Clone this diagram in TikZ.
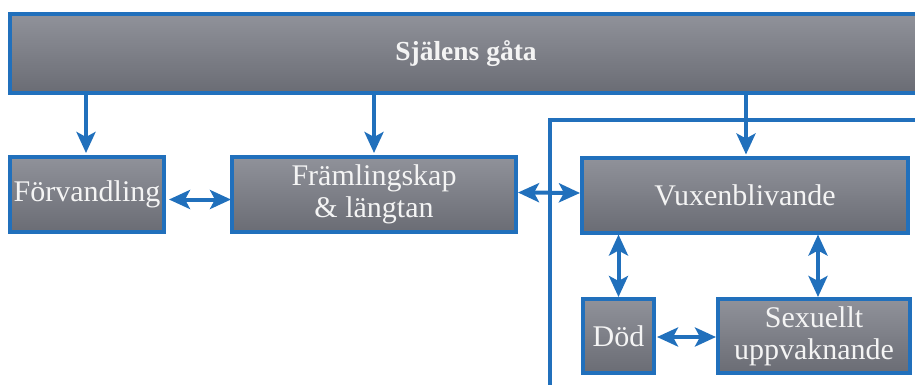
\documentclass[tikz,border=0pt]{standalone}
\usepackage{fontspec}
\setmainfont{Liberation Serif}
\usetikzlibrary{arrows.meta}
\definecolor{bblue}{HTML}{2170BC}
\definecolor{gtop}{HTML}{90929A}
\definecolor{gbot}{HTML}{6A6C74}
\definecolor{txt}{HTML}{F4F4F4}
\tikzset{
  box/.style={draw=bblue, line width=4pt, top color=gtop, bottom color=gbot,
    inner sep=0pt, text=txt, align=center, font=\fontsize{30}{32}\selectfont},
  arr/.style={draw=bblue, line width=4pt, -{Stealth[length=21pt,width=19pt,inset=5pt]}},
  darr/.style={draw=bblue, line width=4pt, {Stealth[length=21pt,width=19pt,inset=5pt]}-{Stealth[length=21pt,width=19pt,inset=5pt]}},
  plain/.style={draw=bblue, line width=4pt}
}
\begin{document}
\begin{tikzpicture}[x=1pt,y=-1pt]
\useasboundingbox (0,0) rectangle (915,384);
\clip (0,0) rectangle (915,384);
\node[box, minimum width=912pt, minimum height=79pt, font=\fontsize{27.5}{30}\selectfont\bfseries] (top) at (466,53.5) {Själens gåta};
\node[box, minimum width=154pt, minimum height=75pt] (forv) at (87,194.5) {Förvandling};
\node[box, minimum width=284pt, minimum height=75pt] (fram) at (374,194.5) {Främlingskap\\\& längtan};
\node[box, minimum width=326pt, minimum height=75pt] (vux) at (745,195) {Vuxenblivande};
\node[box, minimum width=71pt, minimum height=74pt] (dod) at (618.5,336) {Död};
\node[box, minimum width=192pt, minimum height=74pt] (sex) at (814,336) {Sexuellt\\uppvaknande};
\coordinate (lb) at (550,400);
\coordinate (lc) at (550,120);
\coordinate (lr) at (930,120);
\draw[plain] (lb) -- (lc) -- (lr);
\draw[arr] ([xshift=-1pt]forv.north |- top.south) -- ([xshift=-1pt,yshift=2pt]forv.north);
\draw[arr] (fram.north |- top.south) -- ([yshift=2pt]fram.north);
\draw[arr] ([xshift=1pt]vux.north |- top.south) -- ([xshift=1pt,yshift=1pt]vux.north);
\draw[darr, shorten <=3pt, shorten >=-1pt] ([yshift=-5pt]forv.east) -- ([yshift=-5pt]fram.west);
\draw[darr, shorten <=0pt, shorten >=0pt] ([yshift=2pt]fram.east) -- ([yshift=2pt]vux.west);
\draw[darr] (vux.south -| dod.north) -- (dod.north);
\draw[darr] ([xshift=4pt]vux.south -| sex.north) -- ([xshift=4pt]sex.north);
\draw[darr, shorten <=1pt] ([yshift=-1pt]dod.east) -- ([yshift=-1pt]sex.west);
\end{tikzpicture}
\end{document}
